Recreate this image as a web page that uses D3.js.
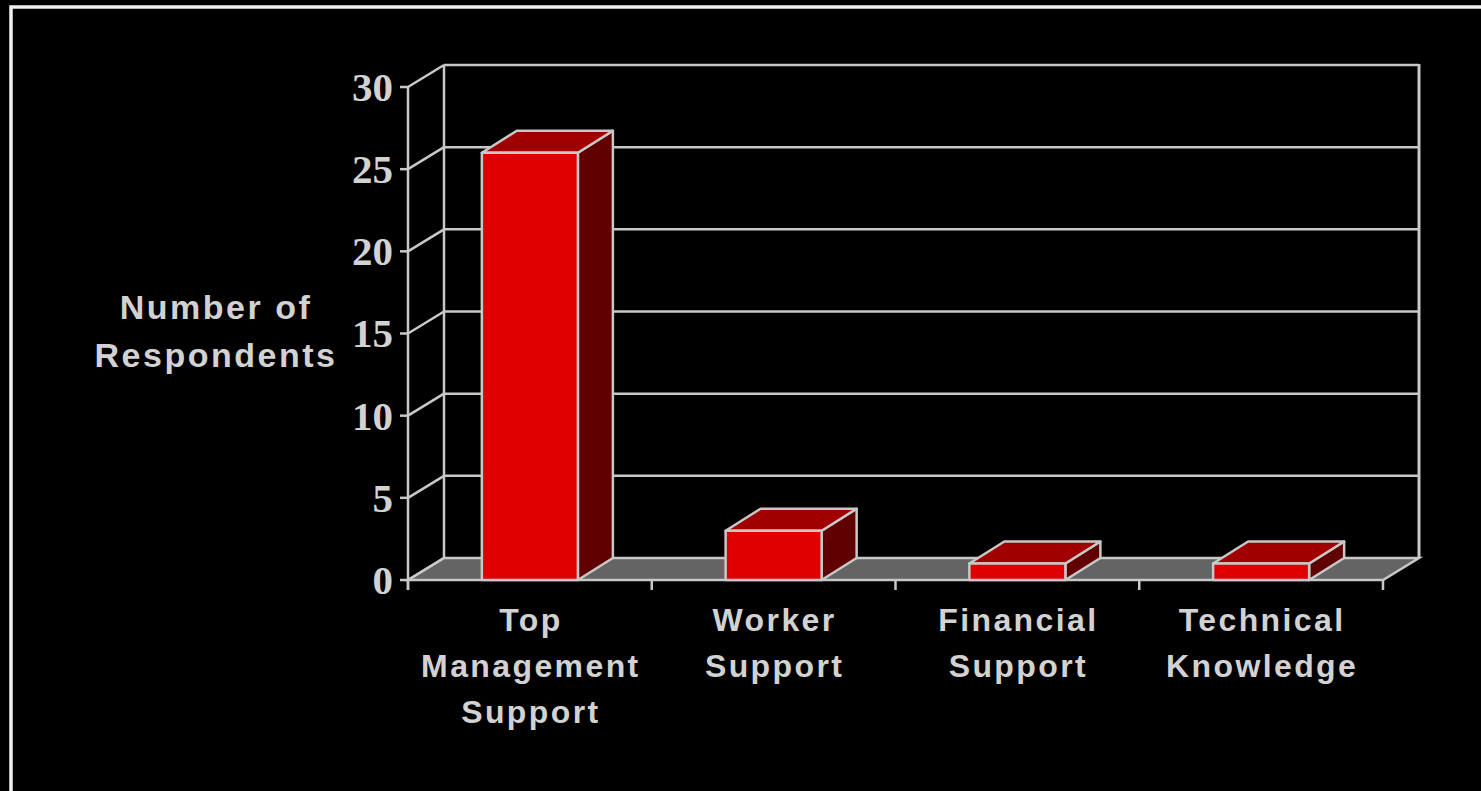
<!DOCTYPE html>
<html>
<head>
<meta charset="utf-8">
<script src="https://cdn.jsdelivr.net/npm/d3@7"></script>
<style>
  html, body { margin: 0; padding: 0; background: #000; overflow: hidden; }
  svg { display: block; }
</style>
</head>
<body>
<svg id="chart" width="1481" height="791"></svg>
<script>
// ---- data ----
const categories = [
  ["Top", "Management", "Support"],
  ["Worker", "Support"],
  ["Financial", "Support"],
  ["Technical", "Knowledge"]
];
const categoryKeys = ["Top Management Support", "Worker Support", "Financial Support", "Technical Knowledge"];
const values = [26, 3, 1, 1];
const yTicks = [0, 5, 10, 15, 20, 25, 30];
const yTitle = ["Number of", "Respondents"];

// ---- layout ----
const svg = d3.select("#chart");
const W = 1481, H = 791;
const front = { left: 408, right: 1383, bottom: 580, top: 87 };
const depth = { dx: 36, dy: -22 };
const barDepth = { dx: 35, dy: -22 };

const lineColor = "#c8c8c8";
const textColor = "#d2d2d2";
const floorColor = "#646464";
const frontColor = "#e00000";
const topColor = "#a00000";
const sideColor = "#600000";

svg.append("rect").attr("x", 0).attr("y", 0).attr("width", W).attr("height", H).attr("fill", "#000");
// outer frame (cut at right / bottom)
svg.append("rect").attr("x", 11).attr("y", 7).attr("width", W + 20).attr("height", H + 20)
  .attr("fill", "none").attr("stroke", "#f0f0f0").attr("stroke-width", 3.5);

const y = d3.scaleLinear().domain([0, 30]).range([front.bottom, front.top]);
const x = d3.scaleBand().domain(categoryKeys).range([front.left, front.right])
  .paddingInner(0.606).paddingOuter(0.303);
const step = x.step();

const g = svg.append("g");

// floor
const fl = front.left, fr = front.right, fb = front.bottom;
g.append("path")
  .attr("d", `M${fl},${fb} L${fr},${fb} L${fr + depth.dx},${fb + depth.dy} L${fl + depth.dx},${fb + depth.dy} Z`)
  .attr("fill", floorColor).attr("stroke", lineColor).attr("stroke-width", 2.5).attr("stroke-linejoin", "miter");

// back wall grid lines
yTicks.forEach(t => {
  const yb = y(t) + depth.dy;
  if (t > 0) {
    g.append("line").attr("x1", fl + depth.dx).attr("x2", fr + depth.dx).attr("y1", yb).attr("y2", yb)
      .attr("stroke", lineColor).attr("stroke-width", 2.5);
  }
  // side wall diagonal
  g.append("line").attr("x1", fl).attr("y1", y(t)).attr("x2", fl + depth.dx).attr("y2", yb)
    .attr("stroke", lineColor).attr("stroke-width", 2.5);
  // tick mark
  g.append("line").attr("x1", fl - 8).attr("x2", fl).attr("y1", y(t)).attr("y2", y(t))
    .attr("stroke", lineColor).attr("stroke-width", 2.5);
});
// back wall verticals
g.append("line").attr("x1", fl + depth.dx).attr("x2", fl + depth.dx)
  .attr("y1", y(30) + depth.dy).attr("y2", y(0) + depth.dy).attr("stroke", lineColor).attr("stroke-width", 2.5);
g.append("line").attr("x1", fr + depth.dx).attr("x2", fr + depth.dx)
  .attr("y1", y(30) + depth.dy - 1).attr("y2", y(0) + depth.dy).attr("stroke", lineColor).attr("stroke-width", 3);
// front value axis
g.append("line").attr("x1", fl).attr("x2", fl).attr("y1", y(30)).attr("y2", y(0) + 10)
  .attr("stroke", lineColor).attr("stroke-width", 2.5);

// category ticks
d3.range(categoryKeys.length + 1).forEach(i => {
  const xx = fl + i * step;
  g.append("line").attr("x1", xx).attr("x2", xx).attr("y1", fb).attr("y2", fb + 10)
    .attr("stroke", lineColor).attr("stroke-width", 2.5);
});

// bars
categoryKeys.forEach((k, i) => {
  const x0 = x(k), x1 = x0 + x.bandwidth();
  const yt = y(values[i]), yb = y(0);
  const dx = barDepth.dx, dy = barDepth.dy;
  const bg = g.append("g").attr("stroke", lineColor).attr("stroke-width", 2.5).attr("stroke-linejoin", "round");
  // side
  bg.append("path").attr("d", `M${x1},${yb} L${x1 + dx},${yb + dy} L${x1 + dx},${yt + dy} L${x1},${yt} Z`).attr("fill", sideColor);
  // top
  bg.append("path").attr("d", `M${x0},${yt} L${x1},${yt} L${x1 + dx},${yt + dy} L${x0 + dx},${yt + dy} Z`).attr("fill", topColor);
  // front
  bg.append("rect").attr("x", x0).attr("y", yt).attr("width", x1 - x0).attr("height", yb - yt).attr("fill", frontColor);
});

// y tick labels
g.selectAll("text.ytick").data(yTicks).enter().append("text")
  .attr("class", "ytick")
  .attr("x", 393).attr("y", d => y(d)).attr("dy", "0.34em")
  .attr("text-anchor", "end")
  .attr("font-family", "'Liberation Serif', 'Times New Roman', serif")
  .attr("font-weight", "bold").attr("font-size", 41)
  .attr("fill", textColor).text(d => d);

// y title
const yt = g.append("text").attr("text-anchor", "middle")
  .attr("font-family", "'Liberation Sans', Arial, sans-serif")
  .attr("font-weight", "bold").attr("font-size", 34).attr("letter-spacing", 2.5)
  .attr("fill", textColor);
yTitle.forEach((s, i) => {
  yt.append("tspan").attr("x", 216).attr("y", 319 + i * 48).text(s);
});

// category labels
categoryKeys.forEach((k, i) => {
  const cx = x(k) + x.bandwidth() / 2 + 1;
  const t = g.append("text").attr("text-anchor", "middle")
    .attr("font-family", "'Liberation Sans', Arial, sans-serif")
    .attr("font-weight", "bold").attr("font-size", 32).attr("letter-spacing", 2.4)
    .attr("fill", textColor);
  categories[i].forEach((s, j) => {
    t.append("tspan").attr("x", cx).attr("y", 631 + j * 46).text(s);
  });
});
</script>
</body>
</html>
